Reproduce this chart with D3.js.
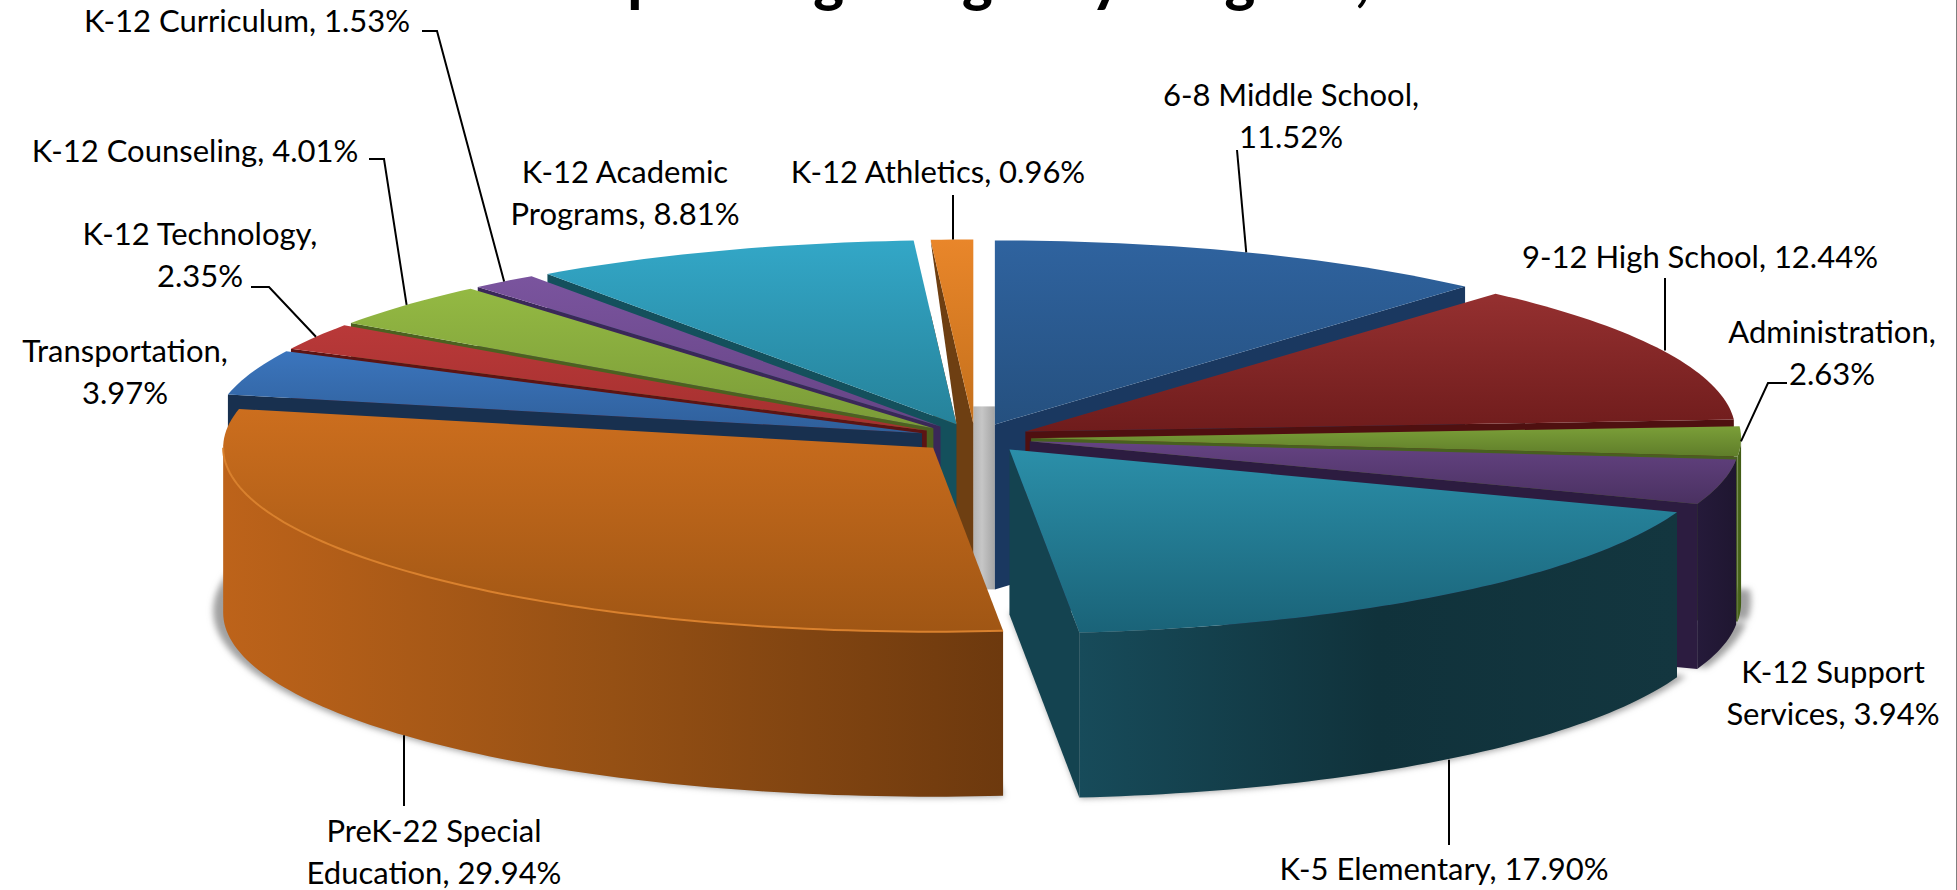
<!DOCTYPE html>
<html>
<head>
<meta charset="utf-8">
<script src="https://cdn.jsdelivr.net/npm/d3@7"></script>
<style>
html, body { margin: 0; padding: 0; background: #fff; overflow: hidden; }
svg { display: block; }
text { font-family: Lato, "Open Sans", sans-serif; fill: #000; }
</style>
</head>
<body>
<svg width="1957" height="890"></svg>
<script>
var categories = ["6-8 Middle School", "9-12 High School", "Administration", "K-12 Support Services",
    "K-5 Elementary", "PreK-22 Special Education", "Transportation", "K-12 Technology",
    "K-12 Counseling", "K-12 Curriculum", "K-12 Academic Programs", "K-12 Athletics"];
var shares = [11.52, 12.44, 2.63, 3.94, 17.90, 29.94, 3.97, 2.35, 4.01, 1.53, 8.81, 0.96];
var titleText = "Operating Budget by Program,";

// label text, one entry per slice, split the way the chart wraps it
var labelLines = [
    ["6-8 Middle School,", "11.52%"],
    ["9-12 High School, 12.44%"],
    ["Administration,", "2.63%"],
    ["K-12 Support", "Services, 3.94%"],
    ["K-5 Elementary, 17.90%"],
    ["PreK-22 Special", "Education, 29.94%"],
    ["Transportation,", "3.97%"],
    ["K-12 Technology,", "2.35%"],
    ["K-12 Counseling, 4.01%"],
    ["K-12 Curriculum, 1.53%"],
    ["K-12 Academic", "Programs, 8.81%"],
    ["K-12 Athletics, 0.96%"]
];

// top colour, bottom colour of the top face, colour of the cut walls
var topLight = ["#2f639f", "#953030", "#7b9f38", "#654383", "#2b8fa9", "#cc6e1e", "#3b75bd", "#b93939", "#94b943", "#7a549e", "#33a7c7", "#e9862a"];
var topDark = ["#25507f", "#6f1c1c", "#5f7d2a", "#4a3161", "#1a6378", "#a05614", "#2f5f9a", "#a5302f", "#7a9b38", "#664485", "#26829a", "#c4701c"];
var wallColor = ["#1a3860", "#4f1010", "#48601f", "#2c1c40", "#144350", "#6e3f12", "#18304f", "#5c1414", "#4c6120", "#3a2858", "#14505c", "#6e3f12"];
var rimStops = [
    null, null,
    ["#4f6b1f", "#3f5a14"],
    ["#251a3a", "#1f1630"],
    ["#174b5a", "#10323b", "#13363f"],
    ["#bd631a", "#955014", "#6d390e"],
    null, null, null, null, null, null
];

var svg = d3.select("svg");

var cx = 975, cy = 438, rx = 710, ry = 184, depth = 165, explode = 0.079;

var x = d3.scaleLinear().domain([-1, 1]).range([cx - rx, cx + rx]);
var y = d3.scaleLinear().domain([-1, 1]).range([cy + ry, cy - ry]);

var arcs = d3.pie().sort(null).value(function(d) { return d; })(shares);

var slices = arcs.map(function(a, i) {
    var mid = (a.startAngle + a.endAngle) / 2;
    return {
        i: i,
        a0: a.startAngle,
        a1: a.endAngle,
        mid: mid,
        ox: explode * Math.sin(mid),
        oy: explode * Math.cos(mid)
    };
});

function pt(s, r, ang, dz) {
    return [x(s.ox + r * Math.sin(ang)), y(s.oy + r * Math.cos(ang)) + (dz || 0)];
}

function angles(a0, a1) {
    var n = Math.max(2, Math.ceil((a1 - a0) / 0.02));
    return d3.range(n + 1).map(function(k) { return a0 + (a1 - a0) * k / n; });
}

var line = d3.line();
function poly(points) { return line(points) + "Z"; }

function topFace(s, dz, r) {
    var pts = [pt(s, 0, 0, dz)];
    angles(s.a0, s.a1).forEach(function(a) { pts.push(pt(s, r || 1, a, dz)); });
    return poly(pts);
}

// part of the outer rim that faces the viewer
function rimRange(s) {
    var a0 = Math.max(s.a0, Math.PI / 2), a1 = Math.min(s.a1, 3 * Math.PI / 2);
    return a1 > a0 ? [a0, a1] : null;
}

var defs = svg.append("defs");

defs.append("filter").attr("id", "soft")
    .attr("x", "-5%").attr("y", "-5%").attr("width", "110%").attr("height", "110%")
    .append("feGaussianBlur").attr("stdDeviation", 3);

slices.forEach(function(s) {
    var g = defs.append("linearGradient").attr("id", "top" + s.i)
        .attr("x1", 0).attr("y1", 0).attr("x2", 0).attr("y2", 1);
    g.append("stop").attr("offset", 0).attr("stop-color", topLight[s.i]);
    g.append("stop").attr("offset", 1).attr("stop-color", topDark[s.i]);
    if (rimStops[s.i]) {
        var r = defs.append("linearGradient").attr("id", "rim" + s.i)
            .attr("x1", 0).attr("y1", 0).attr("x2", 1).attr("y2", 0);
        rimStops[s.i].forEach(function(c, k) {
            r.append("stop").attr("offset", k / (rimStops[s.i].length - 1)).attr("stop-color", c);
        });
    }
});

var grey = defs.append("linearGradient").attr("id", "gap")
    .attr("x1", 0).attr("y1", 0).attr("x2", 1).attr("y2", 0);
grey.append("stop").attr("offset", 0).attr("stop-color", "#b4b4b4");
grey.append("stop").attr("offset", 0.4).attr("stop-color", "#c6c6c6");
grey.append("stop").attr("offset", 1).attr("stop-color", "#a4a4a4");

// soft shadow under the front of the pie
var shadow = svg.append("g").attr("filter", "url(#soft)").attr("fill", "#a0a0a0");
slices.filter(rimRange).forEach(function(s) {
    shadow.append("path").attr("d", topFace(s, depth - 2, 1.014));
});

// grey gap between the last and first slice
var first = slices[0], last = slices[slices.length - 1];
var gapL = pt(last, 0, 0)[0], gapR = pt(first, 0, 0)[0], gapTop = pt(first, 0, 0)[1];
svg.append("rect")
    .attr("x", gapL).attr("y", gapTop - 18)
    .attr("width", gapR - gapL).attr("height", depth + 18)
    .attr("fill", "url(#gap)");

// back slices first
var pieG = svg.append("g");
slices.slice().sort(function(a, b) { return Math.cos(b.mid) - Math.cos(a.mid); }).forEach(function(s) {
    var g = pieG.append("g").attr("class", "slice");
    var apex = pt(s, 0, 0);
    var apexLow = pt(s, 0, 0, depth);

    // white wedge that keeps the last slice's wall off the one before it
    if (s.i === slices.length - 2) {
        g.append("path").attr("fill", "#fff")
            .attr("d", poly([apex, pt(s, 1, s.a1), pt(last, 1, last.a0)]));
    }

    if (s.a0 > Math.PI) {
        g.append("path").attr("fill", wallColor[s.i])
            .attr("d", poly([apex, pt(s, 1, s.a0), pt(s, 1, s.a0, depth), apexLow]));
    }
    if (s.a1 < Math.PI) {
        g.append("path").attr("fill", wallColor[s.i])
            .attr("d", poly([apex, pt(s, 1, s.a1), pt(s, 1, s.a1, depth), apexLow]));
    }

    var rim = rimRange(s);
    if (rim) {
        var as = angles(rim[0], rim[1]);
        var pts = as.map(function(a) { return pt(s, 1, a); })
            .concat(as.slice().reverse().map(function(a) { return pt(s, 1, a, depth); }));
        g.append("path").attr("fill", rimStops[s.i] ? "url(#rim" + s.i + ")" : wallColor[s.i]).attr("d", poly(pts));
    }

    g.append("path").attr("fill", "url(#top" + s.i + ")").attr("d", topFace(s));

    // light edge along the big orange slice
    if (categories[s.i] === "PreK-22 Special Education") {
        g.append("path").attr("fill", "none").attr("stroke", "#d9812e").attr("stroke-width", 2)
            .attr("d", line(angles(rim[0], rim[1]).map(function(a) { return pt(s, 1, a); })));
    }
});

// leader lines, label end first, then down to the slice edge
var leaderKnees = {
    "6-8 Middle School": [[1237, 150]],
    "9-12 High School": [[1665, 278]],
    "Administration": [[1787, 383], [1768, 383]],
    "K-5 Elementary": [[1449, 845]],
    "PreK-22 Special Education": [[404, 806]],
    "K-12 Technology": [[251, 287], [269, 287]],
    "K-12 Counseling": [[369, 159], [384, 159]],
    "K-12 Curriculum": [[422, 31], [437, 31]],
    "K-12 Athletics": [[953, 195]]
};
var leaders = svg.append("g").attr("fill", "none").attr("stroke", "#000").attr("stroke-width", 2);
slices.forEach(function(s) {
    var knee = leaderKnees[categories[s.i]];
    if (!knee) return;
    var front = Math.cos(s.mid) < -0.1;
    var end = pt(s, 1, s.mid, front ? depth : 0);
    // the last knee sets x for straight vertical leaders
    if (knee.length === 1 && Math.abs(knee[0][0] - end[0]) < 5) end[0] = knee[0][0];
    leaders.append("path").attr("d", line(knee.concat([end])));
});

// label centre x and first baseline
var labelX = [1291, 1700, 1832, 1833, 1444, 434, 125, 200, 195, 247, 625, 938];
var labelY = [106, 268, 343, 683, 880, 842, 362, 245, 162, 32, 183, 183];
var lineGap = 41.5;
var labels = svg.append("g").attr("font-size", 31).attr("text-anchor", "middle");
labelLines.forEach(function(lines, i) {
    lines.forEach(function(t, k) {
        labels.append("text").attr("x", labelX[i]).attr("y", labelY[i] + k * lineGap).text(t);
    });
});

// title runs off the top of the picture, only the descenders show
svg.append("text")
    .attr("x", cx).attr("y", 0)
    .attr("text-anchor", "middle")
    .attr("font-size", 58).attr("font-weight", 900)
    .text(titleText);

// thin frame line at the right edge
svg.append("line").attr("x1", 1956.5).attr("x2", 1956.5).attr("y1", 0).attr("y2", 890)
    .attr("stroke", "#808080").attr("stroke-width", 1);
</script>
</body>
</html>
